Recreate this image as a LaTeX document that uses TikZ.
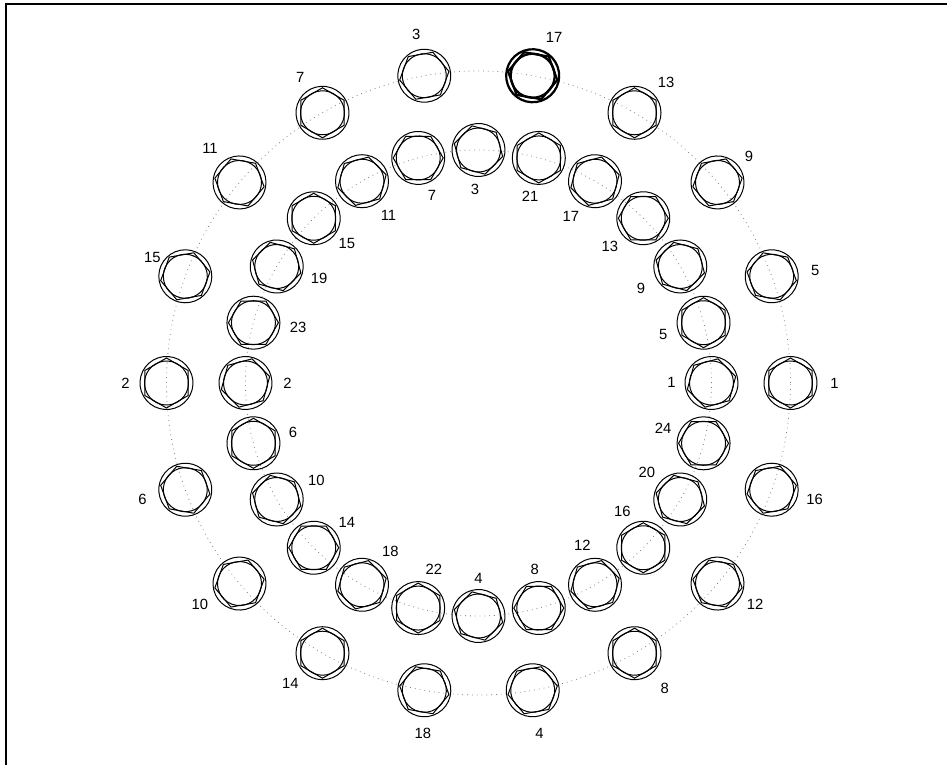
\documentclass[tikz,border=0pt]{standalone}
\usepackage{fontspec}
\setmainfont{Liberation Sans}
\usetikzlibrary{calc}
\tikzset{
  pics/bolt/.style={code={
    \draw (0,0) circle[radius=26.5];
    \draw (0,0) circle[radius=22];
    \draw (0:25) -- (60:25) -- (120:25) -- (180:25) -- (240:25) -- (300:25) -- cycle;
  }},
  pitch/.style={gray, dotted, line width=0.4pt},
  num/.style={font=\fontsize{7.4}{9}\selectfont, inner sep=0pt}
}
\begin{document}
\begin{tikzpicture}[x=0.5pt, y=0.5pt, line width=0.5pt]
  \useasboundingbox (-478.5,-382) rectangle (468.5,383);
  % frame
  \draw[line width=1pt] (-472.5,-382) -- (-472.5,379) -- (468.5,379);

  % pitch circles
  \draw[pitch] (0,0) circle[radius=312];
  \draw[pitch] (0,0) circle[radius=233];

  % outer ring, 18 places: angle/number/label angle/label distance
  \foreach \a/\t/\la/\ld [count=\i] in {0/1/0/44, 20/5/8/44, 40/9/40/41, 60/13/44/44,
      80/17/61/44, 100/3/101/42, 120/7/122/42, 140/11/131/45, 160/15/150/38,
      180/2/180/41, 200/6/193/44, 220/10/208/45, 240/14/223/44, 260/18/268/43,
      280/4/279/44, 300/8/311/46, 320/12/331/43, 340/16/347/44} {
    \coordinate (o\i) at (\a:312);
    \pic[rotate=\a+30] at (o\i) {bolt};
    \node[num] (lo\i) at ($(o\i)+(\la:\ld)$) {\t};
  }
  % place 17 is marked
  \pic[rotate=110, line width=1.1pt] at (o5) {bolt};

  % inner ring, 24 places: number/label angle/label distance
  \foreach \t/\la/\ld [count=\i] in {1/179/40, 5/196/42, 9/209/45, 13/220/43.5,
      17/236/43, 21/257/39, 3/265/40, 7/290/40, 11/308/43, 15/323/41.5,
      19/344/44, 23/354/45, 2/0/42, 6/15/41, 10/26/44, 14/37/41.5,
      18/50/44, 22/68/42, 4/90/38, 8/96/39, 12/108/41, 16/120/42,
      20/141/43, 24/160/43} {
    \pgfmathsetmacro\a{15*(\i-1)}
    \coordinate (n\i) at (\a:233);
    \pic[rotate=\a+15] at (n\i) {bolt};
    \node[num] (ln\i) at ($(n\i)+(\la:\ld)$) {\t};
  }
\end{tikzpicture}
\end{document}
